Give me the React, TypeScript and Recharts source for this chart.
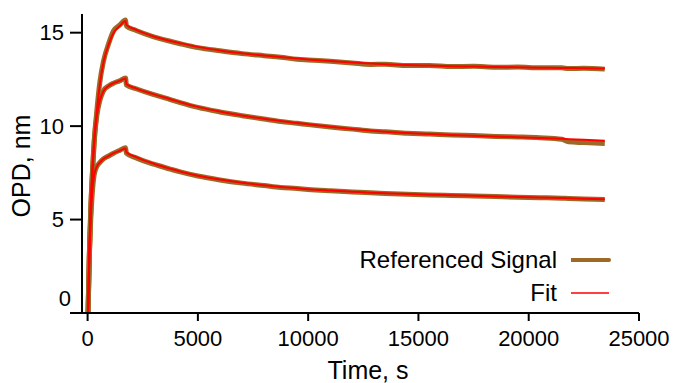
import React from 'react';
import { LineChart, Line, XAxis, YAxis, Legend, Label } from 'recharts';

// time points (s) shared by the measured traces
const sigTimes = [20, 80, 150, 200, 300, 425, 550, 725, 950, 1180, 1450, 1720, 1760, 2200, 3000, 3750, 4200, 5000, 6000, 7000, 8000, 8750, 9500, 10000, 11000, 12000, 12830, 13500, 14500, 15500, 16500, 17500, 18500, 19500, 20500, 21500, 21800, 22500, 23450];

const sigHigh = [0, 3.2, 5.8, 7.1, 9.2, 10.9, 12.3, 13.5, 14.4, 15.1, 15.4, 15.68, 15.35, 15.12, 14.78, 14.54, 14.41, 14.2, 14.03, 13.88, 13.77, 13.69, 13.58, 13.54, 13.47, 13.38, 13.3, 13.31, 13.24, 13.25, 13.19, 13.2, 13.15, 13.16, 13.12, 13.12, 13.08, 13.1, 13.05];
const sigMid = [0, 3.2, 5.8, 7.1, 9.2, 10.6, 11.35, 11.9, 12.15, 12.3, 12.42, 12.58, 12.2, 12.0, 11.68, 11.42, 11.26, 11.0, 10.76, 10.56, 10.38, 10.25, 10.15, 10.08, 9.95, 9.84, 9.74, 9.7, 9.62, 9.58, 9.53, 9.5, 9.45, 9.42, 9.38, 9.3, 9.16, 9.12, 9.07];
const sigLow = [0, 3.0, 5.2, 6.2, 7.4, 7.85, 8.05, 8.25, 8.4, 8.55, 8.7, 8.84, 8.55, 8.3, 7.96, 7.7, 7.55, 7.33, 7.12, 6.95, 6.82, 6.72, 6.66, 6.61, 6.54, 6.48, 6.43, 6.4, 6.36, 6.32, 6.29, 6.26, 6.23, 6.2, 6.17, 6.14, 6.13, 6.1, 6.07];

// fitted curves
const fitTimes = [20, 80, 150, 200, 300, 425, 550, 725, 950, 1180, 1450, 1720, 1760, 2200, 3000, 3750, 4200, 5000, 6000, 7000, 8000, 8750, 9500, 10000, 11000, 12000, 12830, 13500, 14500, 15500, 16500, 17500, 18500, 19500, 20500, 21500, 22500, 23450];
const fitHigh = [0, 3.3, 5.9, 7.2, 9.2, 10.9, 12.2, 13.45, 14.35, 15.0, 15.35, 15.62, 15.42, 15.15, 14.8, 14.56, 14.44, 14.24, 14.05, 13.9, 13.78, 13.7, 13.62, 13.57, 13.49, 13.41, 13.35, 13.31, 13.27, 13.24, 13.21, 13.19, 13.17, 13.15, 13.13, 13.11, 13.1, 13.08];
const fitMid = [0, 3.3, 5.9, 7.2, 9.2, 10.6, 11.35, 11.88, 12.15, 12.3, 12.42, 12.55, 12.24, 12.02, 11.7, 11.44, 11.28, 11.03, 10.78, 10.57, 10.39, 10.27, 10.17, 10.1, 9.97, 9.85, 9.76, 9.7, 9.63, 9.58, 9.53, 9.49, 9.45, 9.41, 9.37, 9.32, 9.27, 9.22];
const fitLow = [0, 3.1, 5.3, 6.3, 7.4, 7.85, 8.05, 8.25, 8.4, 8.55, 8.68, 8.8, 8.6, 8.34, 7.99, 7.72, 7.57, 7.35, 7.14, 6.97, 6.83, 6.74, 6.67, 6.62, 6.55, 6.49, 6.44, 6.41, 6.37, 6.33, 6.3, 6.27, 6.24, 6.21, 6.18, 6.15, 6.12, 6.09];

const xTicks = [0, 5000, 10000, 15000, 20000, 25000];
const yTicks = [0, 5, 10, 15];

const legendNames = ['Referenced Signal', 'Fit'];
const SIGNAL_COLOR = '#9C6A26';
const FIT_COLOR = '#FF0000';
const FONT = '"Liberation Sans", Arial, Helvetica, sans-serif';

const toPoints = (times: number[], vals: number[]) => times.map((t, i) => ({ t, v: vals[i] }));

const signalSeries = [sigHigh, sigMid, sigLow].map((vals) => toPoints(sigTimes, vals));
const fitSeries = [fitHigh, fitMid, fitLow].map((vals) => toPoints(fitTimes, vals));

const YTick = (props: any) => {
  const { x, y, payload } = props;
  const isZero = payload.value === 0;
  return (
    <text
      x={isZero ? x + 7 : x}
      y={isZero ? y - 15 : y}
      dy="0.355em"
      textAnchor="end"
      fill="#000"
      fontSize={22}
      fontFamily={FONT}
    >
      {payload.value}
    </text>
  );
};

const renderLegend = () => (
  <div style={{ fontFamily: FONT, fontSize: 24, color: '#000' }}>
    {legendNames.map((name, i) => (
      <div key={name} style={{ display: 'flex', alignItems: 'center', height: 33 }}>
        <span style={{ width: 217, textAlign: 'right', whiteSpace: 'nowrap' }}>{name}</span>
        <svg width={40} height={10} style={{ marginLeft: 14 }}>
          <line
            x1={0}
            x2={38}
            y1={5}
            y2={5}
            stroke={i === 0 ? SIGNAL_COLOR : FIT_COLOR}
            strokeWidth={i === 0 ? 4 : 1.5}
            strokeLinecap={i === 0 ? 'round' : 'butt'}
          />
        </svg>
      </div>
    ))}
  </div>
);

export default function App() {
  return (
    <div style={{ position: 'fixed', left: 0, top: 0, background: '#fff' }}>
      <LineChart width={673} height={383} margin={{ top: 14, right: 34, bottom: 0, left: 0 }}>
        <XAxis
          dataKey="t"
          type="number"
          domain={[-254, 25000]}
          allowDataOverflow
          ticks={xTicks}
          interval={0}
          height={70}
          tickSize={8}
          tickMargin={9}
          axisLine={{ stroke: '#000', strokeWidth: 2 }}
          tickLine={{ stroke: '#000', strokeWidth: 2 }}
          tick={{ fill: '#000', fontSize: 22, fontFamily: FONT }}
        >
          <Label
            content={() => (
              <text x={368} y={379} textAnchor="middle" fontSize={25} fontFamily={FONT} fill="#000">
                Time, s
              </text>
            )}
          />
        </XAxis>
        <YAxis
          type="number"
          domain={[0, 16]}
          ticks={yTicks}
          interval={0}
          width={82}
          tickSize={12}
          tickMargin={6}
          axisLine={{ stroke: '#000', strokeWidth: 2 }}
          tickLine={{ stroke: '#000', strokeWidth: 2 }}
          tick={<YTick />}
        >
          <Label
            content={() => (
              <text
                x={30}
                y={166}
                transform="rotate(-90, 30, 166)"
                textAnchor="middle"
                fontSize={25}
                fontFamily={FONT}
                fill="#000"
              >
                OPD, nm
              </text>
            )}
          />
        </YAxis>
        <Legend
          layout="vertical"
          align="center"
          verticalAlign="middle"
          content={renderLegend}
          wrapperStyle={{ left: 340, top: 243, width: 280, bottom: 'auto' }}
        />
        {signalSeries.map((d, i) => (
          <Line
            key={`sig${i}`}
            data={d}
            dataKey="v"
            stroke={SIGNAL_COLOR}
            strokeWidth={5}
            dot={false}
            type="monotone"
            isAnimationActive={false}
            legendType="none"
          />
        ))}
        {fitSeries.map((d, i) => (
          <Line
            key={`fit${i}`}
            data={d}
            dataKey="v"
            stroke={FIT_COLOR}
            strokeWidth={2}
            dot={false}
            type="monotone"
            isAnimationActive={false}
            legendType="none"
          />
        ))}
      </LineChart>
    </div>
  );
}
